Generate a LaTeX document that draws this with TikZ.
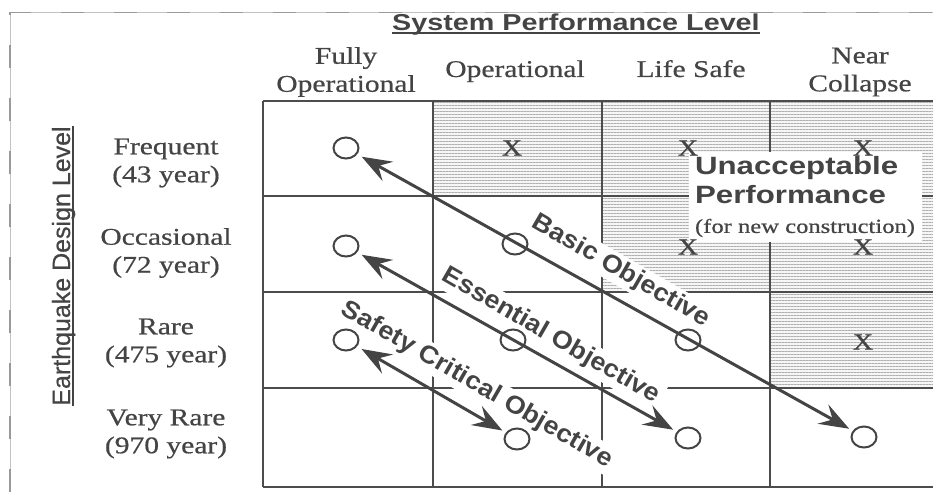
\documentclass[tikz,border=0pt]{standalone}
\usepackage{fontspec}
\setmainfont[FakeStretch=1.23,FakeBold=0.6]{Liberation Serif}
\newfontfamily\hdsans[FakeStretch=1.25]{Liberation Sans}
\newfontfamily\objsans[FakeStretch=1.08]{Liberation Sans}
\newfontfamily\axsans[FakeBold=0.6]{Liberation Sans}
\usepackage{xcolor}
\definecolor{cInk}{HTML}{444444}
\definecolor{cGrid}{HTML}{4C4C4C}
\definecolor{cShade}{HTML}{8C8C8C}
\definecolor{cFrame}{HTML}{9A9A9A}
\usepackage{tikz}
\usetikzlibrary{arrows.meta,shapes.geometric,patterns.meta}
\tikzset{
  head-text/.style={text=cInk,align=center,inner sep=0pt,
    font=\fontsize{24}{28}\selectfont},
  axis-text/.style={text=cInk,inner sep=0pt,
    font=\axsans\fontsize{25}{25}\selectfont},
  mark-x/.style={text=cInk,inner sep=0pt,font=\fontsize{23}{23}\selectfont},
  node-pt/.style={ellipse,draw=cInk,line width=2pt,minimum width=25pt,
    minimum height=21pt,inner sep=0pt},
  obj-label/.style={fill=white,text=cInk,rotate=-30,inner sep=3pt,
    font=\objsans\bfseries\fontsize{25}{25}\selectfont},
  unacc-box/.style={fill=white,text=cInk,align=left,inner sep=4pt,
    minimum width=233pt,minimum height=90pt,
    font=\hdsans\bfseries\fontsize{25}{29}\selectfont},
  grid-line/.style={draw=cGrid,line width=2pt},
  line-ul/.style={draw=cInk,line width=2pt},
  zone-bad/.style={pattern={Lines[angle=0,distance=3pt,line width=0.6pt]},
    pattern color=cShade!70,preaction={fill=cShade!8}},
  frame-line/.style={draw=cFrame!60,line width=0.5pt},
  frame-dash/.style={draw=cFrame,line width=1.2pt,dash pattern=on 23pt off 30pt},
  arrow-obj/.style={{Stealth[length=30pt,width=22pt,inset=11pt]}-{Stealth[length=30pt,width=22pt,inset=11pt]},
    line width=3pt,draw=cInk,shorten <=5pt,shorten >=4pt},
}
\begin{document}
\begin{tikzpicture}[x=1pt,y=-1pt]
  \useasboundingbox (0,0) rectangle (933,492);
  % scan frame
  \draw[frame-line] (10,492) -- (10,12.5) -- (933,12.5);
  \draw[frame-dash] (10,492) -- (10,12.5) -- (933,12.5);
  % unacceptable zone and grid
  \fill[zone-bad] (433,101) -- (933,101) -- (933,388) -- (770,388) -- (770,292)
    -- (602,292) -- (602,196) -- (433,196) -- cycle;
  \foreach \x in {263,433,602,770}
    \draw[grid-line] (\x,101) -- (\x,487);
  \foreach \y in {101,196,292,388,487}
    \draw[grid-line] (263,\y) -- (933,\y);
  % headings
  \node[head-text,anchor=base,font=\hdsans\bfseries\fontsize{23}{23}\selectfont]
    (ttl) at (576,31) {System Performance Level};
  \draw[line-ul] ([yshift=-2.5pt]ttl.base west) -- ([yshift=-2.5pt]ttl.base east);
  \node[axis-text,rotate=90,anchor=base] (axis) at (70,266) {Earthquake Design Level};
  \draw[line-ul] ([xshift=2.5pt]axis.base west) -- ([xshift=2.5pt]axis.base east);
  \node[head-text]             (fo) at (346,72) {Fully\\Operational};
  \node[head-text,anchor=base] (op) at (515,77) {Operational};
  \node[head-text,anchor=base] (ls) at (691,77) {Life Safe};
  \node[head-text]             (nc) at (860,72) {Near\\Collapse};
  \node[head-text] (frq)   at (166,163) {Frequent\\(43 year)};
  \node[head-text] (occ)   at (166,253) {Occasional\\(72 year)};
  \node[head-text] (rare)  at (166,343) {Rare\\(475 year)};
  \node[head-text] (vrare) at (166,434) {Very Rare\\(970 year)};
  % labels over the grid
  \node[unacc-box] (unacc) at (805,197)
    {Unacceptable\\Performance\\{\rmfamily\mdseries\fontsize{20}{22}\selectfont (for new construction)}};
  \foreach \px/\py [count=\i] in {512/148,688/148,863/148,688/247,863/247,863/342}
    \node[mark-x] (x\i) at (\px,\py) {X};
  \node[obj-label] (basic) at (621,271) {Basic Objective};
  \node[obj-label] (ess)   at (551,336) {Essential Objective};
  \node[obj-label] (safe)  at (477,385) {Safety Critical Objective};
  % performance points
  \node[node-pt] (f1) at (346,148) {};
  \node[node-pt] (o1) at (346,246) {};
  \node[node-pt] (o2) at (515,244) {};
  \node[node-pt] (r1) at (346,340) {};
  \node[node-pt] (r2) at (513,340) {};
  \node[node-pt] (r3) at (688,340) {};
  \node[node-pt] (v2) at (517,439) {};
  \node[node-pt] (v3) at (688,438) {};
  \node[node-pt] (v4) at (864,437) {};
  \draw[arrow-obj] (f1) -- (v4);
  \draw[arrow-obj] (o1) -- (v3);
  \draw[arrow-obj] (r1) -- (v2);
\end{tikzpicture}
\end{document}
